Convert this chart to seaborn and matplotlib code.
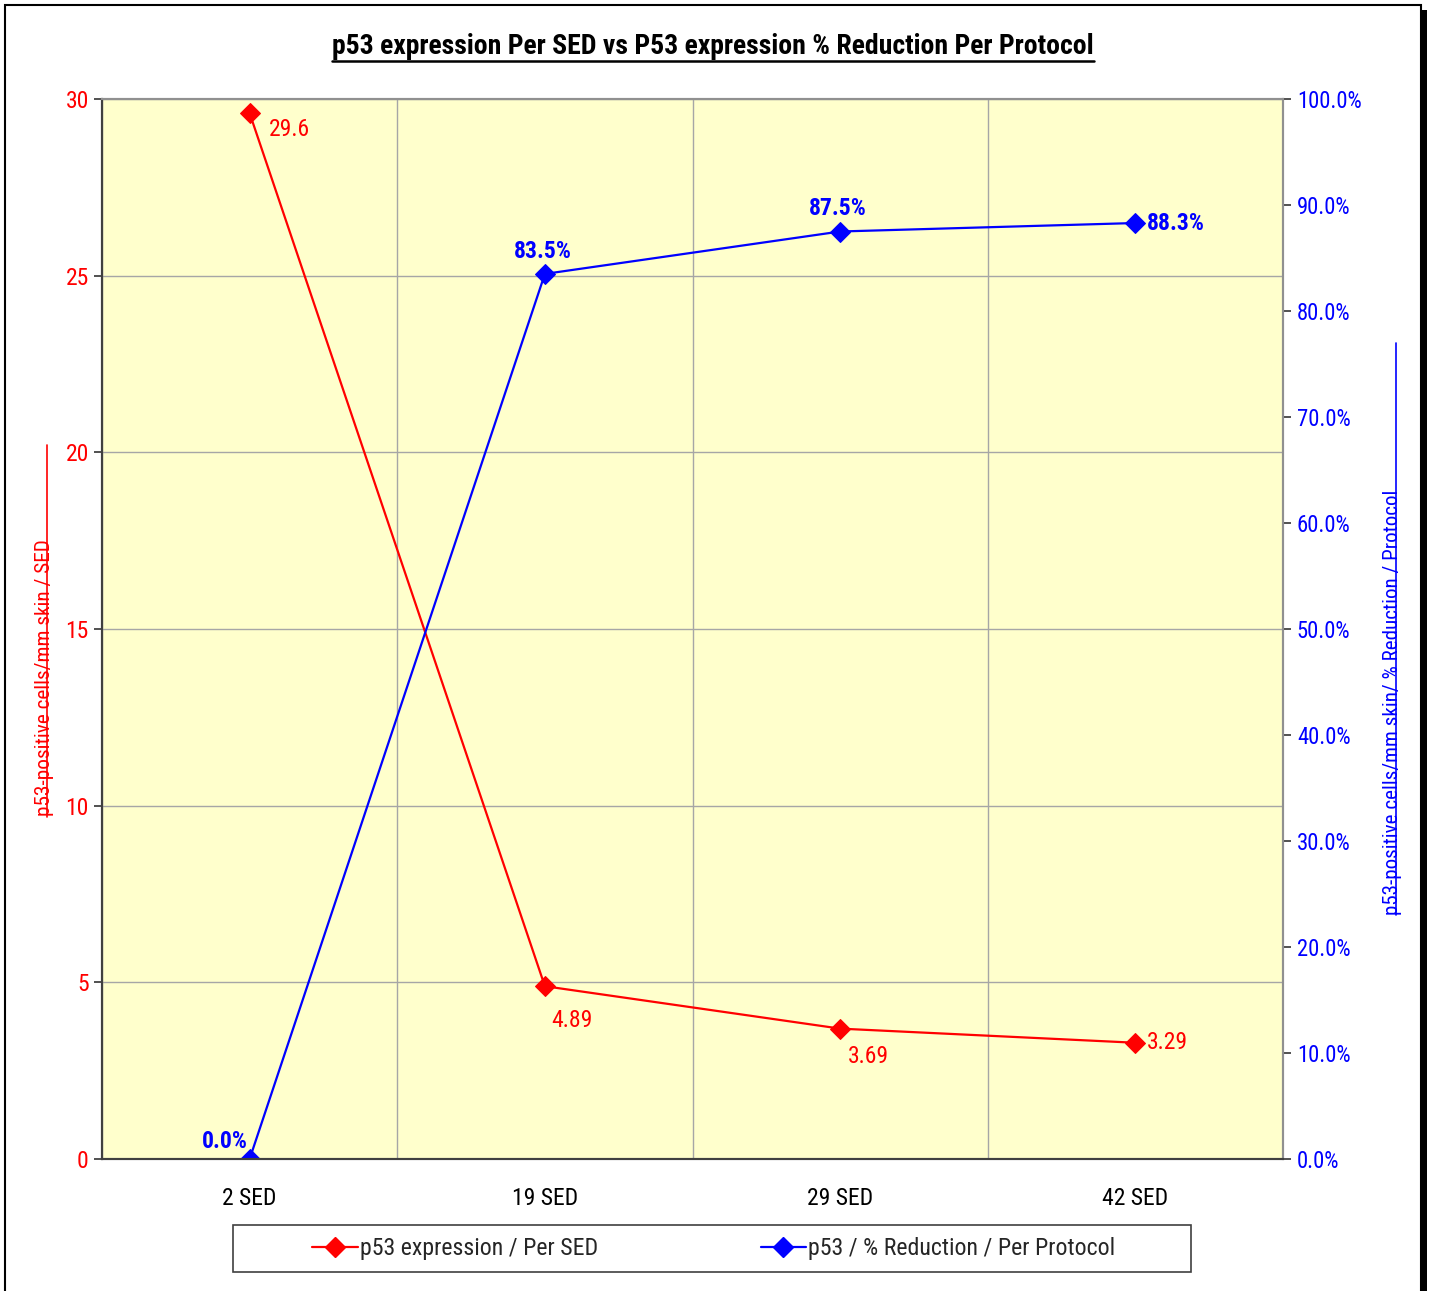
import matplotlib
matplotlib.use("Agg")
import matplotlib.pyplot as plt
from matplotlib import font_manager
from matplotlib.lines import Line2D
from matplotlib.patches import Rectangle
from matplotlib.ticker import FuncFormatter, MultipleLocator, FixedLocator
import pandas as pd
import seaborn as sns

# Data
protocols = ["2 SED", "19 SED", "29 SED", "42 SED"]
expression_per_sed = [29.6, 4.89, 3.69, 3.29]
reduction_pct = [0.0, 83.5, 87.5, 88.3]
expression_labels = ["29.6", "4.89", "3.69", "3.29"]
reduction_labels = ["0.0%", "83.5%", "87.5%", "88.3%"]

RED = "#FF0000"
BLUE = "#0000FF"
PLOT_BG = "#FFFFCC"

sns.set_style("white")
# Prefer a narrow sans face that also ships a bold weight
weights = {}
for f in font_manager.fontManager.ttflist:
    weights.setdefault(f.name, set()).add(f.weight)
narrow = "Liberation Sans"
for cand in ["Liberation Sans Narrow", "Arial Narrow", "Roboto Condensed",
             "Archivo Narrow", "PT Sans Narrow", "IBM Plex Sans Condensed"]:
    if cand in weights and any(w >= 700 for w in weights[cand] if isinstance(w, int)):
        narrow = cand
        break
plt.rcParams["font.family"] = [narrow, "DejaVu Sans"]

W, H = 1432, 1291
fig = plt.figure(figsize=(W / 100, H / 100), dpi=100)
fig.patch.set_facecolor("white")


def fx(px):
    return px / W


def fy(py):
    return 1 - py / H


ax = fig.add_axes([fx(102), fy(1159), fx(1283) - fx(102), fy(99) - fy(1159)])
ax.set_facecolor(PLOT_BG)
ax2 = ax.twinx()

df = pd.DataFrame({
    "protocol": protocols,
    "expr": expression_per_sed,
    "red": reduction_pct,
})

sns.lineplot(data=df, x="protocol", y="expr", ax=ax, color=RED, marker="D",
             markersize=10, markeredgecolor=RED, linewidth=1.6, sort=False,
             label="p53 expression / Per SED", legend=False)
sns.lineplot(data=df, x="protocol", y="red", ax=ax2, color=BLUE, marker="D",
             markersize=10, markeredgecolor=BLUE, linewidth=1.6, sort=False,
             label="p53 / % Reduction / Per Protocol", legend=False)

ax.set_xlim(-0.5, 3.5)
ax.set_ylim(0, 30)
ax2.set_ylim(0, 100)
ax.yaxis.set_major_locator(MultipleLocator(5))
ax2.yaxis.set_major_locator(MultipleLocator(10))
ax2.yaxis.set_major_formatter(FuncFormatter(lambda v, p: f"{v:.1f}%"))

# Category boundaries carry the tick marks and vertical gridlines
ax.xaxis.set_minor_locator(FixedLocator([-0.5, 0.5, 1.5, 2.5, 3.5]))
ax.tick_params(axis="x", which="major", length=0, pad=20, labelsize=17, labelcolor="black")
ax.tick_params(axis="x", which="minor", length=6, width=1.2, color="#333333", direction="out")
ax.tick_params(axis="y", length=6, width=1.2, color="#333333", direction="out",
               pad=3.5, labelsize=17, labelcolor=RED)
ax2.tick_params(axis="y", length=6, width=1.2, color="#333333", direction="out",
                pad=4, labelsize=16.3, labelcolor=BLUE)
ax.set_xlabel("")
ax.set_ylabel("")
ax2.set_ylabel("")

ax.grid(False)
ax2.grid(False)
ax.grid(True, axis="y", color="#A6A6A6", linewidth=1)
ax.grid(True, axis="x", which="minor", color="#A6A6A6", linewidth=1)
ax.set_axisbelow(True)

for a in (ax, ax2):
    a.spines["left"].set_color("#404040")
    a.spines["bottom"].set_color("#404040")
    a.spines["top"].set_color("#909090")
    a.spines["right"].set_color("#909090")
    for s in a.spines.values():
        s.set_linewidth(1.5)
ax2.patch.set_visible(False)

# Value labels
red_offsets = [(40, -16), (27, -34), (28, -28), (32, 0)]
for i, (v, t) in enumerate(zip(expression_per_sed, expression_labels)):
    ax.annotate(t, (i, v), xytext=red_offsets[i], textcoords="offset pixels",
                ha="center", va="center", color=RED, fontsize=17)
blue_offsets = [(-25, 17), (-2, 22), (-2, 23), (40, 0)]
for i, (v, t) in enumerate(zip(reduction_pct, reduction_labels)):
    ax2.annotate(t, (i, v), xytext=blue_offsets[i], textcoords="offset pixels",
                 ha="center", va="center", color=BLUE, fontsize=17, fontweight="bold")

# Axis titles with their rules
fig.text(fx(45), fy(678), "p53-positive cells/mm skin / SED", rotation=90,
         ha="center", va="center", color=RED, fontsize=15.3)
fig.add_artist(Line2D([fx(47), fx(47)], [fy(445), fy(817)], color=RED, linewidth=1.2))
fig.text(fx(1393), fy(702), "p53-positive cells/mm skin/ % Reduction / Protocol", rotation=90,
         ha="center", va="center", color=BLUE, fontsize=15.1)
fig.add_artist(Line2D([fx(1396), fx(1396)], [fy(343), fy(915)], color=BLUE, linewidth=1.2))

# Underlined chart title
title = fig.text(fx(713), fy(47), "p53 expression Per SED vs P53 expression % Reduction Per Protocol",
                 ha="center", va="center", fontsize=20, fontweight="bold", color="black")
fig.canvas.draw()
bb = title.get_window_extent()
fig.add_artist(Line2D([bb.x0 / W, bb.x1 / W], [fy(61), fy(61)], color="black", linewidth=1.8))

# Legend in its own box
handles = [Line2D([], [], color=RED, marker="D", markersize=10, linewidth=1.6),
           Line2D([], [], color=BLUE, marker="D", markersize=10, linewidth=1.6)]
fig.legend(handles, ["p53 expression / Per SED", "p53 / % Reduction / Per Protocol"],
           loc="center", bbox_to_anchor=(fx(714), fy(1249)), ncol=2, frameon=False,
           fontsize=17.2, handlelength=1.9, handletextpad=0.1, columnspacing=6.8)
fig.add_artist(Rectangle((fx(233), fy(1272)), fx(1191) - fx(233), fy(1225) - fy(1272),
                         fill=False, edgecolor="#404040", linewidth=1.2))

# Chart frame with drop shadow
fig.add_artist(Rectangle((fx(5), fy(1300)), fx(1421) - fx(5), fy(5) - fy(1300),
                         fill=False, edgecolor="black", linewidth=1.5))
fig.add_artist(Rectangle((fx(1421), fy(1300)), fx(1427) - fx(1421), fy(10) - fy(1300),
                         facecolor="black", edgecolor="none"))

fig.savefig("out.png", dpi=100)
